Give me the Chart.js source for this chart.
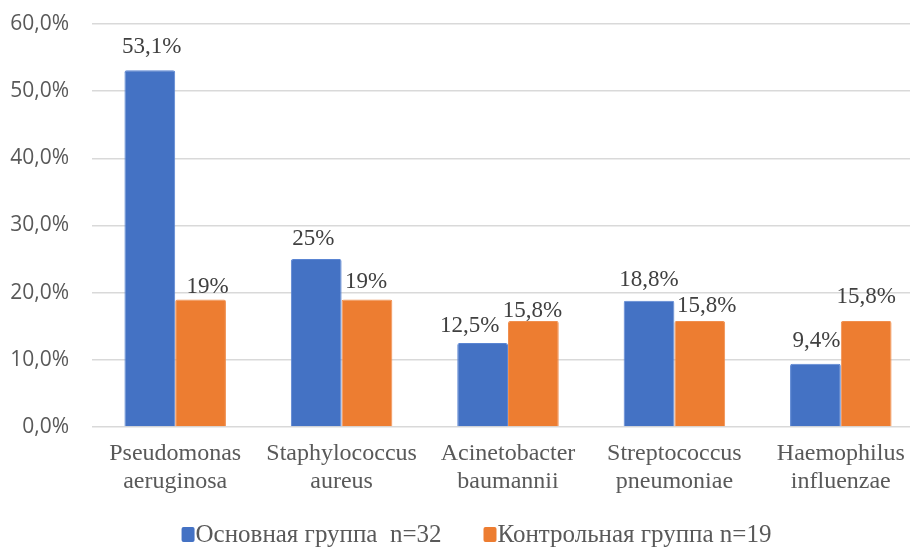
<!DOCTYPE html>
<html>
<head>
<meta charset="utf-8">
<script src="https://cdn.jsdelivr.net/npm/chart.js@4.4.0/dist/chart.umd.min.js"></script>
<style>
  html, body { margin: 0; padding: 0; background: #fff; overflow: hidden; }
  #wrap { position: relative; width: 924px; height: 547px; }
</style>
</head>
<body>
<div id="wrap"><canvas id="chart"></canvas></div>
<script>
"use strict";

// ---------- data ----------
const categories = [
  ["Pseudomonas", "aeruginosa"],
  ["Staphylococcus", "aureus"],
  ["Acinetobacter", "baumannii"],
  ["Streptococcus", "pneumoniae"],
  ["Haemophilus", "influenzae"],
];
const seriesNames = ["Основная группа  n=32", "Контрольная группа n=19"];
const mainGroup = [53.1, 25, 12.5, 18.8, 9.4];
const controlGroup = [19, 19, 15.8, 15.8, 15.8];
const yTicks = [0, 10, 20, 30, 40, 50, 60];

const BLUE = "#4472C4";
const ORANGE = "#ED7D31";
const SERIF = "'Liberation Serif', 'Times New Roman', serif";

// labels were nudged by hand: [dx, gap above bar]
const labelNudge = [
  [[2, 17], [-3, 14], [-13, 11], [0, 15], [1, 17]],
  [[7, 6], [-1, 11], [-1, 4], [7, 9], [0, 18]],
];

function pct(v) {
  // 53.1 -> "53,1%", 25 -> "25%"
  const s = Number.isInteger(v) ? String(v) : v.toFixed(1);
  return s.replace(".", ",") + "%";
}

// value labels above bars
const valueLabels = {
  id: "valueLabels",
  afterDatasetsDraw(chart) {
    const ctx = chart.ctx;
    ctx.save();
    ctx.font = "23px " + SERIF;
    ctx.fillStyle = "#404040";
    ctx.textAlign = "center";
    ctx.textBaseline = "alphabetic";
    chart.data.datasets.forEach((ds, i) => {
      chart.getDatasetMeta(i).data.forEach((bar, j) => {
        const n = labelNudge[i][j];
        ctx.fillText(pct(ds.data[j]), bar.x + n[0], bar.y - n[1]);
      });
    });
    ctx.restore();
  },
};

// legend row at the bottom, squares close to the text
const bottomLegend = {
  id: "bottomLegend",
  afterDraw(chart) {
    const ctx = chart.ctx;
    const y = 534;
    const gap = 41;
    ctx.save();
    ctx.font = "25px " + SERIF;
    ctx.textBaseline = "middle";
    const items = chart.data.datasets.map((ds) => ({
      text: ds.label,
      color: ds.backgroundColor,
      w: 15 + ctx.measureText(ds.label).width,
    }));
    const total = items.reduce((a, it) => a + it.w, 0) + gap * (items.length - 1);
    let x = 477 - total / 2;
    items.forEach((it) => {
      ctx.fillStyle = it.color;
      ctx.beginPath();
      ctx.roundRect(x, y - 7, 13, 15, 2);
      ctx.fill();
      ctx.fillStyle = "#595959";
      ctx.fillText(it.text, x + 14, y + 1);
      x += it.w + gap;
    });
    ctx.restore();
  },
};

new Chart(document.getElementById("chart"), {
  type: "bar",
  data: {
    labels: categories,
    datasets: [
      {
        label: seriesNames[0],
        data: mainGroup,
        backgroundColor: BLUE,
        borderColor: "#5a85d3",
        borderWidth: 1,
        borderRadius: 2,
      },
      {
        label: seriesNames[1],
        data: controlGroup,
        backgroundColor: ORANGE,
        borderColor: "#f08f4f",
        borderWidth: 1,
        borderRadius: 2,
      },
    ],
  },
  options: {
    responsive: true,
    maintainAspectRatio: false,
    animation: false,
    layout: { padding: { top: 24, right: 0, bottom: 0, left: 0 } },
    datasets: { bar: { categoryPercentage: 0.61, barPercentage: 1 } },
    plugins: {
      legend: { display: false },
      tooltip: { enabled: false },
    },
    scales: {
      x: {
        grid: { display: false, drawTicks: false },
        border: { display: false },
        ticks: {
          color: "#595959",
          padding: 13,
          maxRotation: 0,
          autoSkip: false,
          font: { family: SERIF, size: 24, lineHeight: "28px" },
        },
        afterFit(scale) {
          scale.height = 120;
          scale.paddingTop = 0;
        },
      },
      y: {
        min: yTicks[0],
        max: yTicks[yTicks.length - 1],
        grid: { color: "#d9d9d9", lineWidth: 1.5, drawTicks: false },
        border: { display: false },
        ticks: {
          stepSize: yTicks[1] - yTicks[0],
          color: "#595959",
          padding: 23,
          font: { family: "'Open Sans', sans-serif", size: 21 },
          callback: (v) => v.toFixed(1).replace(".", ",") + "%",
        },
        afterFit(scale) {
          scale.width = 92;
          scale.paddingTop = 0;
          scale.paddingBottom = 0;
        },
      },
    },
  },
  plugins: [valueLabels, bottomLegend],
});
</script>
</body>
</html>
